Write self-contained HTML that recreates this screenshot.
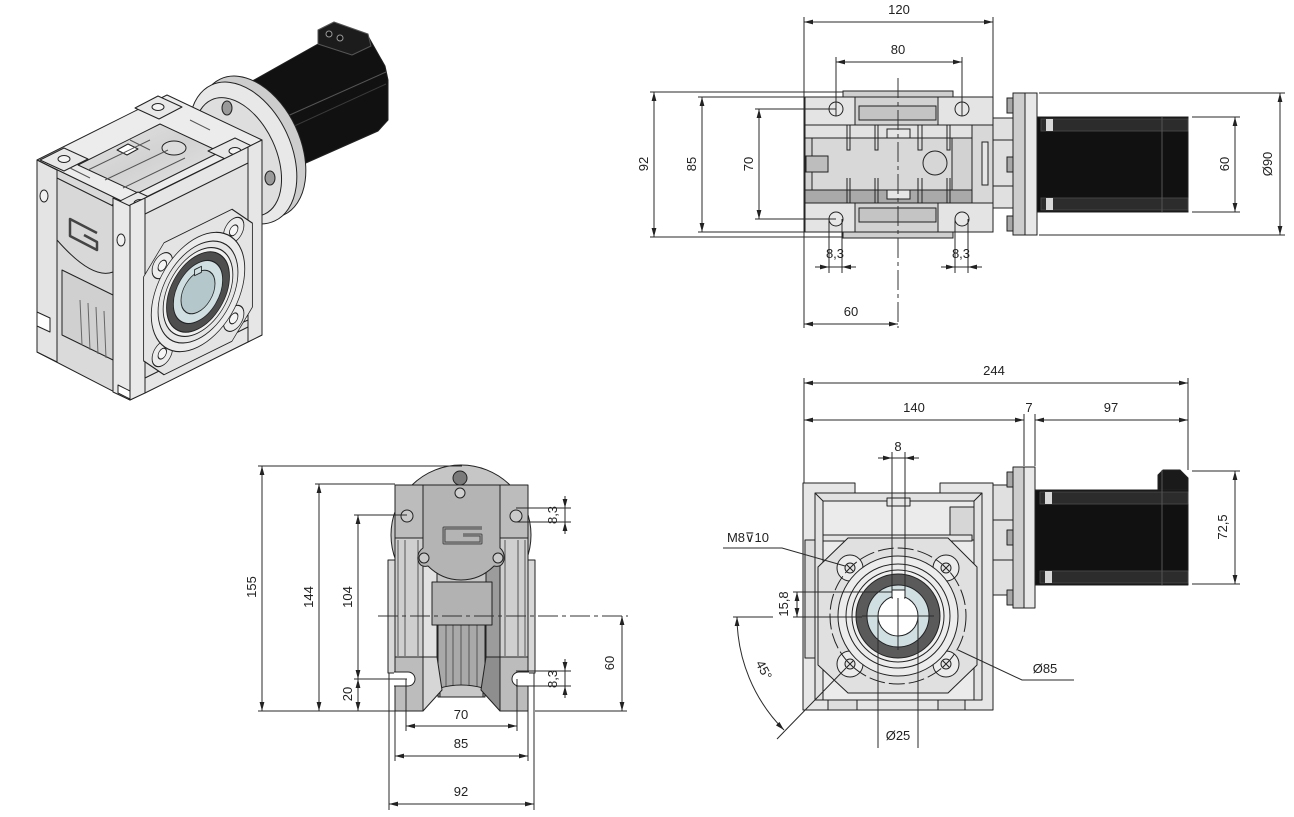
<!DOCTYPE html>
<html><head><meta charset="utf-8">
<style>
html,body{margin:0;padding:0;background:#fff;}
svg{display:block;}
text{font-family:"Liberation Sans",Arial,sans-serif;font-size:13px;fill:#222;}
.d{stroke:#2a2a2a;stroke-width:1;fill:none;}
.c{stroke:#333;stroke-width:1;stroke-dasharray:20 4 4 4;fill:none;}
</style></head><body>
<svg width="1294" height="817" viewBox="0 0 1294 817" xmlns="http://www.w3.org/2000/svg">
<defs>
<marker id="a" viewBox="0 0 9 6" refX="9" refY="3" markerWidth="9" markerHeight="6" orient="auto-start-reverse" markerUnits="userSpaceOnUse"><path d="M0,0.6 L9,3 L0,5.4 z" fill="#222"/></marker>
<linearGradient id="tg" x1="0" y1="0" x2="1" y2="1"><stop offset="0" stop-color="#e4e4e4"/><stop offset="0.5" stop-color="#d2d2d2"/><stop offset="1" stop-color="#e6e6e6"/></linearGradient>
</defs>
<rect width="1294" height="817" fill="#fff"/>

<!-- ================= ISOMETRIC VIEW ================= -->
<g stroke="#222" stroke-width="1" stroke-linejoin="round">
 <!-- motor -->
 <path d="M247,84 L318,44 L368,36 L385,66 L388,80 L388,120 L378,131 L290,170 L272,180 Z" fill="#111"/>
 <path d="M318,44 L318,30 L334,22 L368,34 L371,46 L352,55 Z" fill="#1c1c1c" stroke="#555"/>
 <circle cx="329" cy="34" r="3" fill="#111" stroke="#999"/>
 <circle cx="340" cy="38" r="3" fill="#111" stroke="#999"/>
 <path d="M283,118 L386,72" stroke="#555"/>
 <path d="M290,128 L386,84" stroke="#3a3a3a"/>
 <path d="M262,122 L272,117" stroke="#888" stroke-width="3"/>
 <!-- flange -->
 <ellipse cx="252" cy="147" rx="48" ry="75" transform="rotate(-25 252 147)" fill="#cdcdcd"/>
 <ellipse cx="243" cy="153" rx="48" ry="75" transform="rotate(-25 243 153)" fill="#e8e8e8"/>
 <ellipse cx="238" cy="157" rx="38" ry="63" transform="rotate(-25 238 157)" fill="#dedede"/>
 <ellipse cx="227" cy="108" rx="5" ry="7" fill="#9a9a9a"/>
 <ellipse cx="270" cy="178" rx="5" ry="7" fill="#9a9a9a"/>
 <!-- gearbox faces -->
 <path d="M37,160 L130,205 L130,400 L37,352 Z" fill="#dadada"/>
 <path d="M130,205 L262,140 L262,335 L130,400 Z" fill="#e2e2e2"/>
 <path d="M37,160 L167,95 L262,140 L130,205 Z" fill="#ececec"/>
 <!-- top cavity -->
 <path d="M78,165 L160,124 L220,152 L138,193 Z" fill="url(#tg)"/>
 <!-- top details -->
 <path d="M135,108 L158,96 L182,107 L159,119 Z" fill="#e8e8e8"/>
 <ellipse cx="158" cy="107" rx="6" ry="3.5" fill="#f4f4f4"/>
 <path d="M40,160 L64,148 L88,159 L64,171 Z" fill="#e8e8e8"/>
 <ellipse cx="64" cy="159" rx="6" ry="3.5" fill="#f4f4f4"/>
 <path d="M112,205 L138,192 L160,202 L135,214 Z" fill="#e8e8e8"/>
 <ellipse cx="140" cy="203" rx="6" ry="3.5" fill="#f4f4f4"/>
 <path d="M208,151 L235,138 L260,150 L234,163 Z" fill="#e8e8e8"/>
 <ellipse cx="235" cy="151" rx="6" ry="3.5" fill="#f4f4f4"/>
 <ellipse cx="174" cy="148" rx="12" ry="7" fill="#dcdcdc"/>
 <path d="M117,150 L128,144 L138,149 L127,155 Z" fill="#fff"/>
 <path d="M88,170 L150,140 M105,180 L168,150 M123,188 L185,158 M70,168 L90,178 M130,140 L150,150 M190,120 L210,130" stroke="#555" fill="none"/>
 <!-- left face details -->
 <path d="M37,160 L57,170 L57,362 L37,352 Z" fill="#e4e4e4"/>
 <ellipse cx="44" cy="196" rx="4" ry="6" fill="#f2f2f2"/>
 <path d="M57,178 L113,206 L113,272 Q92,280 57,240 Z" fill="#d8d8d8"/>
 <path d="M97,233 L70,219 L70,236 L97,250 L97,242 L84,235" stroke="#444" stroke-width="2.5" fill="none"/>
 <path d="M62,270 L113,295 L113,360 L62,335 Z" fill="#d0d0d0"/>
 <path d="M80,300 L82,345 M88,303 L90,350 M96,307 L98,354 M104,311 L106,358" stroke="#666" fill="none"/>
 <path d="M37,312 L50,318 L50,332 L37,326 Z" fill="#fff"/>
 <path d="M113,198 L130,206 L130,400 L113,392 Z" fill="#e9e9e9"/>
 <ellipse cx="121" cy="240" rx="4" ry="6" fill="#f2f2f2"/>
 <!-- front face details -->
 <path d="M130,205 L145,198 L145,393 L130,400 Z" fill="#e9e9e9"/>
 <path d="M145,198 L248,147 L248,163 L145,214 Z" fill="#e6e6e6"/>
 <path d="M248,147 L262,140 L262,335 L248,342 Z" fill="#e6e6e6"/>
 <path d="M145,378 L248,327 L248,342 L145,393 Z" fill="#e6e6e6"/>
 <path d="M118,385 L130,391 L130,399 L118,393 Z" fill="#fff"/>
 <path d="M232,316 L248,309 L248,320 L232,327 Z" fill="#f6f6f6"/>
 <!-- output flange -->
 <g transform="matrix(0.85,-0.42,0,1,198,292)">
  <path d="M-40,-66 H40 L64,-42 V42 L40,66 H-40 L-64,42 V-42 Z" fill="#e4e4e4"/>
  <circle cx="-42" cy="-44" r="12" fill="#ececec"/>
  <circle cx="42" cy="-44" r="12" fill="#ececec"/>
  <circle cx="-42" cy="44" r="12" fill="#ececec"/>
  <circle cx="42" cy="44" r="12" fill="#ececec"/>
  <circle r="55" fill="#ececec" stroke="none"/>
  <circle r="55" fill="none"/>
  <circle cx="-42" cy="-44" r="5" fill="#f6f6f6"/>
  <circle cx="42" cy="-44" r="5" fill="#f6f6f6"/>
  <circle cx="-42" cy="44" r="5" fill="#f6f6f6"/>
  <circle cx="42" cy="44" r="5" fill="#f6f6f6"/>
  <circle r="47" fill="#e6e6e6"/>
  <circle r="41" fill="#f0f0f0"/>
  <circle r="37" fill="#4e4e4e"/>
  <circle r="29" fill="#cfdfe2"/>
  <circle r="20" fill="#b4c8cc"/>
  <rect x="-4" y="-24" width="8" height="6" fill="#cfdfe2"/>
 </g>
</g>

<!-- ================= TOP VIEW (top right) ================= -->
<g stroke="#222" stroke-width="1">
 <rect x="843" y="91" width="110" height="6" fill="#cfcfcf"/>
 <rect x="843" y="232" width="110" height="6" fill="#cfcfcf"/>
 <rect x="805" y="97" width="50" height="28" fill="#e4e4e4"/>
 <rect x="938" y="97" width="55" height="28" fill="#e4e4e4"/>
 <rect x="855" y="97" width="83" height="28" fill="#d2d2d2"/>
 <rect x="859" y="106" width="77" height="14" fill="#c4c4c4"/>
 <rect x="805" y="203" width="50" height="29" fill="#e4e4e4"/>
 <rect x="938" y="203" width="55" height="29" fill="#e4e4e4"/>
 <rect x="855" y="203" width="83" height="29" fill="#d2d2d2"/>
 <rect x="859" y="208" width="77" height="14" fill="#c4c4c4"/>
 <rect x="805" y="125" width="167" height="13" fill="#e2e2e2"/>
 <rect x="805" y="138" width="167" height="52" fill="#d2d2d2"/>
 <rect x="805" y="190" width="167" height="13" fill="#a9a9a9"/>
 <rect x="812" y="138" width="140" height="52" fill="#d8d8d8"/>
 <rect x="806" y="156" width="22" height="16" fill="#bdbdbd"/>
 <path d="M847,125 V150 H850 V125 M875,125 V150 H878 V125 M918,125 V150 H922 V125 M947,125 V150 H950 V125 M847,178 V203 M850,178 V203 M875,178 V203 M878,178 V203 M918,178 V203 M922,178 V203 M947,178 V203 M950,178 V203" fill="none"/>
 <rect x="887" y="129" width="23" height="9" fill="#e6e6e6"/>
 <rect x="887" y="190" width="23" height="9" fill="#e6e6e6"/>
 <circle cx="935" cy="163" r="12" fill="#d6d6d6"/>
 <rect x="972" y="125" width="21" height="78" fill="#d8d8d8"/>
 <rect x="982" y="142" width="6" height="43" fill="#e6e6e6"/>
 <rect x="993" y="118" width="20" height="90" fill="#e0e0e0"/>
 <line x1="993" y1="140" x2="1013" y2="140"/><line x1="993" y1="186" x2="1013" y2="186"/>
 <rect x="1013" y="93" width="12" height="142" fill="#cdcdcd"/>
 <rect x="1025" y="93" width="12" height="142" fill="#e8e8e8"/>
 <rect x="1007" y="98" width="6" height="15" fill="#a8a8a8"/>
 <rect x="1007" y="157" width="6" height="15" fill="#a8a8a8"/>
 <rect x="1007" y="216" width="6" height="15" fill="#a8a8a8"/>
 <rect x="1037" y="117" width="151" height="95" fill="#111"/>
 <rect x="1041" y="119" width="147" height="12" fill="#2c2c2c" stroke="#444"/>
 <rect x="1041" y="198" width="147" height="12" fill="#2c2c2c" stroke="#444"/>
 <rect x="1046" y="119" width="7" height="12" fill="#d8d8d8" stroke="none"/>
 <rect x="1046" y="198" width="7" height="12" fill="#d8d8d8" stroke="none"/>
 <line x1="1162" y1="117" x2="1162" y2="212" stroke="#555"/>
 <circle cx="836" cy="109" r="7" fill="#e8e8e8"/>
 <circle cx="962" cy="109" r="7" fill="#e8e8e8"/>
 <circle cx="836" cy="219" r="7" fill="#e8e8e8"/>
 <circle cx="962" cy="219" r="7" fill="#e8e8e8"/>
</g>
<!-- top view dims -->
<g class="d">
 <line x1="898" y1="78" x2="898" y2="328" class="c"/>
 <line x1="804" y1="17" x2="804" y2="328"/>
 <line x1="993" y1="17" x2="993" y2="97"/>
 <line x1="804" y1="22" x2="993" y2="22" marker-start="url(#a)" marker-end="url(#a)"/>
 <line x1="836" y1="57" x2="836" y2="116"/>
 <line x1="962" y1="57" x2="962" y2="116"/>
 <line x1="836" y1="62" x2="962" y2="62" marker-start="url(#a)" marker-end="url(#a)"/>
 <line x1="650" y1="92" x2="843" y2="92"/>
 <line x1="650" y1="237" x2="843" y2="237"/>
 <line x1="654" y1="92" x2="654" y2="237" marker-start="url(#a)" marker-end="url(#a)"/>
 <line x1="698" y1="97" x2="805" y2="97"/>
 <line x1="698" y1="232" x2="805" y2="232"/>
 <line x1="702" y1="97" x2="702" y2="232" marker-start="url(#a)" marker-end="url(#a)"/>
 <line x1="755" y1="109" x2="836" y2="109"/>
 <line x1="755" y1="219" x2="836" y2="219"/>
 <line x1="759" y1="109" x2="759" y2="219" marker-start="url(#a)" marker-end="url(#a)"/>
 <line x1="829" y1="219" x2="829" y2="273"/>
 <line x1="842" y1="219" x2="842" y2="273"/>
 <line x1="955" y1="219" x2="955" y2="273"/>
 <line x1="968" y1="219" x2="968" y2="273"/>
 <line x1="815" y1="267" x2="829" y2="267" marker-end="url(#a)"/>
 <line x1="856" y1="267" x2="842" y2="267" marker-end="url(#a)"/>
 <line x1="829" y1="267" x2="842" y2="267"/>
 <line x1="941" y1="267" x2="955" y2="267" marker-end="url(#a)"/>
 <line x1="982" y1="267" x2="968" y2="267" marker-end="url(#a)"/>
 <line x1="955" y1="267" x2="968" y2="267"/>
 <line x1="804" y1="324" x2="898" y2="324" marker-start="url(#a)" marker-end="url(#a)"/>
 <line x1="1039" y1="93" x2="1285" y2="93"/>
 <line x1="1039" y1="235" x2="1285" y2="235"/>
 <line x1="1280" y1="93" x2="1280" y2="235" marker-start="url(#a)" marker-end="url(#a)"/>
 <line x1="1192" y1="117" x2="1240" y2="117"/>
 <line x1="1192" y1="212" x2="1240" y2="212"/>
 <line x1="1235" y1="117" x2="1235" y2="212" marker-start="url(#a)" marker-end="url(#a)"/>
</g>
<text x="899" y="14" text-anchor="middle">120</text>
<text x="898" y="54" text-anchor="middle">80</text>
<text transform="translate(648,164) rotate(-90)" text-anchor="middle">92</text>
<text transform="translate(696,164) rotate(-90)" text-anchor="middle">85</text>
<text transform="translate(753,164) rotate(-90)" text-anchor="middle">70</text>
<text x="835" y="258" text-anchor="middle">8,3</text>
<text x="961" y="258" text-anchor="middle">8,3</text>
<text x="851" y="316" text-anchor="middle">60</text>
<text transform="translate(1229,164) rotate(-90)" text-anchor="middle">60</text>
<text transform="translate(1272,164) rotate(-90)" text-anchor="middle">Ø90</text>

<!-- ================= FRONT VIEW (bottom left) ================= -->
<g stroke="#222" stroke-width="1" stroke-linejoin="round">
 <circle cx="461" cy="535" r="70" fill="#c6c6c6"/>
 <rect x="388" y="560" width="8" height="113" fill="#d8d8d8"/>
 <rect x="527" y="560" width="8" height="113" fill="#d8d8d8"/>
 <rect x="395" y="538" width="28" height="120" fill="#cfcfcf"/>
 <path d="M398,540 V656 M405,540 V656 M418,540 V656" fill="none" stroke="#555"/>
 <rect x="500" y="538" width="28" height="120" fill="#cfcfcf"/>
 <path d="M505,540 V656 M518,540 V656 M525,540 V656" fill="none" stroke="#555"/>
 <rect x="423" y="565" width="14" height="128" fill="#e2e2e2"/>
 <rect x="486" y="565" width="14" height="128" fill="#9c9c9c"/>
 <rect x="438" y="625" width="47" height="72" fill="#a9a9a9"/>
 <path d="M446,625 V695 M453,625 V695 M461,625 V695 M469,625 V695 M477,625 V695" fill="none" stroke="#555"/>
 <path d="M440,688 Q461,682 483,688 V697 H440 Z" fill="#c8c8c8"/>
 <rect x="432" y="582" width="60" height="43" fill="#b2b2b2"/>
 <rect x="395" y="485" width="28" height="53" fill="#bcbcbc"/>
 <rect x="500" y="485" width="28" height="53" fill="#bcbcbc"/>
 <path d="M423,485 H500 V548 Q505,552 504,560 Q502,568 494,566 Q480,580 461,580 Q442,580 428,566 Q420,568 418,560 Q417,552 423,548 Z" fill="#b4b4b4"/>
 <circle cx="460" cy="478" r="7" fill="#7a7a7a"/>
 <circle cx="460" cy="493" r="5" fill="#cfcfcf"/>
 <circle cx="407" cy="516" r="6" fill="#cacaca"/>
 <circle cx="516" cy="516" r="6" fill="#cacaca"/>
 <circle cx="424" cy="558" r="5" fill="#cacaca"/>
 <circle cx="498" cy="558" r="5" fill="#cacaca"/>
 <path d="M482,528 H444 V543 H481 V535 H463" stroke="#4a4a4a" stroke-width="3" fill="none"/>
 <path d="M482,528 H444 V543 H481 V535 H463" stroke="#a0a0a0" stroke-width="1" fill="none"/>
 <rect x="395" y="657" width="28" height="54" fill="#bcbcbc"/>
 <path d="M423,657 H437 L442,690 L423,711 Z" fill="#d6d6d6"/>
 <rect x="500" y="657" width="28" height="54" fill="#bcbcbc"/>
 <path d="M486,657 H500 V711 L481,690 Z" fill="#8e8e8e"/>
 <path d="M394,672 H408 A7,7 0 0 1 408,686 H394" fill="#fff"/>
 <path d="M529,672 H519 A7,7 0 0 0 519,686 H529" fill="#fff"/>
</g>
<g class="d">
 <line x1="378" y1="616" x2="628" y2="616" class="c"/>
 <line x1="258" y1="466" x2="462" y2="466"/>
 <line x1="258" y1="711" x2="395" y2="711"/>
 <line x1="262" y1="466" x2="262" y2="711" marker-start="url(#a)" marker-end="url(#a)"/>
 <line x1="315" y1="484" x2="395" y2="484"/>
 <line x1="319" y1="484" x2="319" y2="711" marker-start="url(#a)" marker-end="url(#a)"/>
 <line x1="354" y1="515" x2="407" y2="515"/>
 <line x1="354" y1="679" x2="407" y2="679"/>
 <line x1="358" y1="515" x2="358" y2="679" marker-start="url(#a)" marker-end="url(#a)"/>
 <line x1="358" y1="679" x2="358" y2="711" marker-start="url(#a)" marker-end="url(#a)"/>
 <line x1="535" y1="711" x2="627" y2="711"/>
 <line x1="622" y1="616" x2="622" y2="711" marker-start="url(#a)" marker-end="url(#a)"/>
 <line x1="516" y1="508" x2="571" y2="508"/>
 <line x1="516" y1="522" x2="571" y2="522"/>
 <line x1="565" y1="496" x2="565" y2="508" marker-end="url(#a)"/>
 <line x1="565" y1="534" x2="565" y2="522" marker-end="url(#a)"/>
 <line x1="565" y1="508" x2="565" y2="522"/>
 <line x1="516" y1="671" x2="571" y2="671"/>
 <line x1="516" y1="686" x2="571" y2="686"/>
 <line x1="565" y1="659" x2="565" y2="671" marker-end="url(#a)"/>
 <line x1="565" y1="698" x2="565" y2="686" marker-end="url(#a)"/>
 <line x1="565" y1="671" x2="565" y2="686"/>
 <line x1="406" y1="679" x2="406" y2="731"/>
 <line x1="517" y1="679" x2="517" y2="731"/>
 <line x1="406" y1="726" x2="517" y2="726" marker-start="url(#a)" marker-end="url(#a)"/>
 <line x1="395" y1="711" x2="395" y2="761"/>
 <line x1="528" y1="711" x2="528" y2="761"/>
 <line x1="395" y1="756" x2="528" y2="756" marker-start="url(#a)" marker-end="url(#a)"/>
 <line x1="389" y1="673" x2="389" y2="810"/>
 <line x1="534" y1="673" x2="534" y2="810"/>
 <line x1="389" y1="804" x2="534" y2="804" marker-start="url(#a)" marker-end="url(#a)"/>
</g>
<text transform="translate(256,587) rotate(-90)" text-anchor="middle">155</text>
<text transform="translate(313,597) rotate(-90)" text-anchor="middle">144</text>
<text transform="translate(352,597) rotate(-90)" text-anchor="middle">104</text>
<text transform="translate(352,694) rotate(-90)" text-anchor="middle">20</text>
<text transform="translate(614,663) rotate(-90)" text-anchor="middle">60</text>
<text transform="translate(557,515) rotate(-90)" text-anchor="middle">8,3</text>
<text transform="translate(557,679) rotate(-90)" text-anchor="middle">8,3</text>
<text x="461" y="719" text-anchor="middle">70</text>
<text x="461" y="748" text-anchor="middle">85</text>
<text x="461" y="796" text-anchor="middle">92</text>

<!-- ================= SIDE VIEW (bottom right) ================= -->
<g stroke="#222" stroke-width="1" stroke-linejoin="round">
 <rect x="993" y="485" width="20" height="110" fill="#e0e0e0"/>
 <line x1="993" y1="520" x2="1013" y2="520"/><line x1="993" y1="560" x2="1013" y2="560"/>
 <rect x="1013" y="467" width="11" height="141" fill="#cdcdcd"/>
 <rect x="1024" y="467" width="11" height="141" fill="#e8e8e8"/>
 <rect x="1007" y="472" width="6" height="15" fill="#a8a8a8"/>
 <rect x="1007" y="530" width="6" height="15" fill="#a8a8a8"/>
 <rect x="1007" y="590" width="6" height="15" fill="#a8a8a8"/>
 <path d="M1158,490 V475 L1163,470 H1180 L1188,478 V490 Z" fill="#1a1a1a"/>
 <rect x="1035" y="490" width="153" height="95" fill="#111"/>
 <rect x="1040" y="492" width="148" height="12" fill="#2c2c2c" stroke="#444"/>
 <rect x="1040" y="571" width="148" height="12" fill="#2c2c2c" stroke="#444"/>
 <rect x="1045" y="492" width="7" height="12" fill="#d8d8d8" stroke="none"/>
 <rect x="1045" y="571" width="7" height="12" fill="#d8d8d8" stroke="none"/>
 <line x1="1162" y1="470" x2="1162" y2="585" stroke="#555"/>
 <path d="M803,483 H855 V493 H940 V483 H993 V710 H803 Z" fill="#e6e6e6"/>
 <rect x="815" y="493" width="167" height="207" fill="#e2e2e2"/>
 <rect x="823" y="501" width="151" height="199" fill="#ebebeb"/>
 <path d="M815,493 L823,501 M982,493 L974,501" fill="none"/>
 <rect x="950" y="507" width="24" height="33" fill="#d6d6d6"/>
 <rect x="823" y="535" width="149" height="6" fill="#e4e4e4"/>
 <rect x="887" y="498" width="23" height="8" fill="#e6e6e6"/>
 <rect x="805" y="540" width="10" height="118" fill="#dcdcdc"/>
 <rect x="828" y="700" width="29" height="10" fill="#dedede"/>
 <rect x="938" y="700" width="27" height="10" fill="#dedede"/>
 <path d="M848,538 H948 L977,567 V665 L948,693 H848 L818,665 V567 Z" fill="#e0e0e0"/>
 <circle cx="850" cy="568" r="13" fill="#ececec"/>
 <circle cx="946" cy="568" r="13" fill="#ececec"/>
 <circle cx="850" cy="664" r="13" fill="#ececec"/>
 <circle cx="946" cy="664" r="13" fill="#ececec"/>
 <circle cx="898" cy="616" r="60" fill="#ececec" stroke="none"/>
 <circle cx="898" cy="616" r="60" fill="none"/>
 <circle cx="898" cy="616" r="68" fill="none" stroke-dasharray="16 4"/>
 <circle cx="898" cy="616" r="52" fill="none"/>
 <circle cx="898" cy="616" r="46" fill="#f0f0f0"/>
 <circle cx="898" cy="616" r="42" fill="#5a5a5a"/>
 <circle cx="898" cy="616" r="31" fill="#cfdfe2"/>
 <circle cx="898" cy="616" r="20" fill="#fff"/>
 <rect x="892" y="590" width="13" height="8" fill="#fff"/>
 <rect x="893" y="594" width="11" height="6" fill="#fff" stroke="none"/>
 <g fill="#e4e4e4">
  <circle cx="850" cy="568" r="5"/><circle cx="946" cy="568" r="5"/>
  <circle cx="850" cy="664" r="5"/><circle cx="946" cy="664" r="5"/>
 </g>
 <path d="M847,565 L853,571 M853,565 L847,571 M943,565 L949,571 M949,565 L943,571 M847,661 L853,667 M853,661 L847,667 M943,661 L949,667 M949,661 L943,667" fill="none"/>
</g>
<g class="d">
 <line x1="804" y1="378" x2="804" y2="483"/>
 <line x1="1188" y1="378" x2="1188" y2="470"/>
 <line x1="804" y1="383" x2="1188" y2="383" marker-start="url(#a)" marker-end="url(#a)"/>
 <line x1="1024" y1="414" x2="1024" y2="466"/>
 <line x1="1035" y1="414" x2="1035" y2="466"/>
 <line x1="804" y1="420" x2="1024" y2="420" marker-start="url(#a)" marker-end="url(#a)"/>
 <line x1="1035" y1="420" x2="1188" y2="420" marker-start="url(#a)" marker-end="url(#a)"/>
 <line x1="892" y1="452" x2="892" y2="590"/>
 <line x1="905" y1="452" x2="905" y2="590"/>
 <line x1="878" y1="458" x2="892" y2="458" marker-end="url(#a)"/>
 <line x1="919" y1="458" x2="905" y2="458" marker-end="url(#a)"/>
 <line x1="892" y1="458" x2="905" y2="458"/>
 <line x1="898" y1="598" x2="898" y2="650"/>
 <line x1="862" y1="616" x2="934" y2="616"/>
 <line x1="878" y1="616" x2="878" y2="748"/>
 <line x1="918" y1="616" x2="918" y2="748"/>
 <line x1="793" y1="592" x2="892" y2="592"/>
 <line x1="793" y1="617" x2="862" y2="617"/>
 <line x1="797" y1="592" x2="797" y2="617" marker-start="url(#a)" marker-end="url(#a)"/>
 <line x1="733" y1="617" x2="773" y2="617"/>
 <path d="M737,617 A161,161 0 0 0 784,730" marker-start="url(#a)" marker-end="url(#a)"/>
 <line x1="777" y1="739" x2="846" y2="668"/>
 <polyline points="723,548 782,548 845,566"/>
 <polyline points="958,650 1022,680 1074,680"/>
 <line x1="1192" y1="471" x2="1240" y2="471"/>
 <line x1="1192" y1="584" x2="1240" y2="584"/>
 <line x1="1235" y1="471" x2="1235" y2="584" marker-start="url(#a)" marker-end="url(#a)"/>
</g>
<text x="994" y="375" text-anchor="middle">244</text>
<text x="914" y="412" text-anchor="middle">140</text>
<text x="1029" y="412" text-anchor="middle">7</text>
<text x="1111" y="412" text-anchor="middle">97</text>
<text x="898" y="451" text-anchor="middle">8</text>
<text x="748" y="542" text-anchor="middle">M8⊽10</text>
<text transform="translate(788,604) rotate(-90)" text-anchor="middle">15,8</text>
<text transform="translate(760,672) rotate(62)" text-anchor="middle">45°</text>
<text x="1045" y="673" text-anchor="middle">Ø85</text>
<text x="898" y="740" text-anchor="middle">Ø25</text>
<text transform="translate(1227,527) rotate(-90)" text-anchor="middle">72,5</text>
</svg>
</body></html>
